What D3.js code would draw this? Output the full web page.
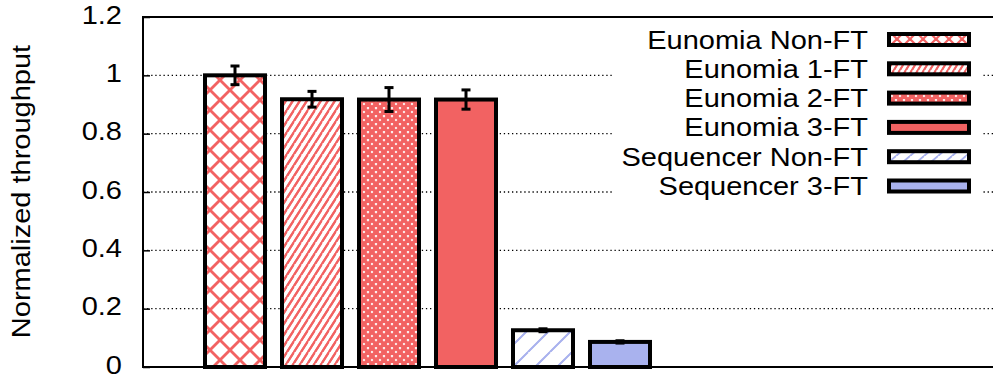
<!DOCTYPE html>
<html>
<head>
<meta charset="utf-8">
<script src="https://cdn.jsdelivr.net/npm/d3@7"></script>
<style>
  html, body { margin: 0; padding: 0; background: #fff; }
  svg { display: block; font-family: "Liberation Sans", Arial, Helvetica, sans-serif; }
</style>
</head>
<body>
<svg id="chart" width="993" height="379"></svg>
<script>
// Normalized throughput per configuration
const categories = ["Eunomia Non-FT", "Eunomia 1-FT", "Eunomia 2-FT", "Eunomia 3-FT", "Sequencer Non-FT", "Sequencer 3-FT"];
const values = [1.0, 0.918, 0.917, 0.917, 0.126, 0.086];
const errors = [0.032, 0.027, 0.041, 0.033, 0.005, 0.004];
const fills = ["xhatch", "slash", "dense", "solidRed", "slashBlue", "solidBlue"];
const yTicks = [0, 0.2, 0.4, 0.6, 0.8, 1, 1.2];
const yTickLabels = ["0", "0.2", "0.4", "0.6", "0.8", "1", "1.2"];

const RED = "#f26262";
const BLUE = "#a9b2ee";
const FONT = 25;      // glyph height
const WIDEN = 1.16;   // horizontal stretch of the lettering

const svg = d3.select("#chart");
const W = 993, H = 379;
const plot = { left: 143, top: 17, bottom: 367 };

const y = d3.scaleLinear().domain([0, 1.2]).range([plot.bottom, plot.top]);
const x = d3.scaleLinear().domain([0, categories.length - 1]).range([235, 620]);
const barW = 60;

// ---- fill patterns ----
const defs = svg.append("defs");
function crossPattern(id, size, color, sw, bg) {
  const p = defs.append("pattern").attr("id", id).attr("patternUnits", "userSpaceOnUse")
    .attr("width", size).attr("height", size);
  p.append("rect").attr("width", size).attr("height", size).attr("fill", bg);
  const s = size;
  [[0, 0, s, s], [s, 0, 0, s], [-s / 2, s / 2, s / 2, 3 * s / 2], [s / 2, -s / 2, 3 * s / 2, s / 2],
   [s / 2, -s / 2, -s / 2, s / 2], [3 * s / 2, s / 2, s / 2, 3 * s / 2]].forEach(l => {
    p.append("line").attr("x1", l[0]).attr("y1", l[1]).attr("x2", l[2]).attr("y2", l[3])
      .attr("stroke", color).attr("stroke-width", sw);
  });
}
function slashPattern(id, w, h, color, sw) {
  const p = defs.append("pattern").attr("id", id).attr("patternUnits", "userSpaceOnUse")
    .attr("width", w).attr("height", h);
  p.append("rect").attr("width", w).attr("height", h).attr("fill", "#fff");
  [[-w, h, 0, 0], [0, h, w, 0], [w, h, 2 * w, 0], [-w, 2 * h, w, 0], [0, 2 * h, 2 * w, 0]].forEach(l => {
    p.append("line").attr("x1", l[0]).attr("y1", l[1]).attr("x2", l[2]).attr("y2", l[3])
      .attr("stroke", color).attr("stroke-width", sw);
  });
}
crossPattern("xhatch", 20, RED, 2.8, "#fff");
crossPattern("dense", 8, RED, 3.7, "#fff");
slashPattern("slash", 7, 11, RED, 2.1);
slashPattern("slashBlue", 22, 22, BLUE, 1.7);
crossPattern("xhatchKey", 13, RED, 2.2, "#fff");
slashPattern("slashKey", 6, 10, RED, 1.9);
slashPattern("slashBlueKey", 14, 12, BLUE, 1.6);

function fillFor(f, key) {
  if (f === "solidRed") return RED;
  if (f === "solidBlue") return BLUE;
  if (key && f === "xhatch") return "url(#xhatchKey)";
  if (key && f === "slash") return "url(#slashKey)";
  if (key && f === "slashBlue") return "url(#slashBlueKey)";
  return `url(#${f})`;
}

// ---- grid ----
const grid = svg.append("g");
yTicks.filter(t => t > 0 && t < 1.2).forEach(t => {
  grid.append("line")
    .attr("x1", plot.left).attr("x2", W)
    .attr("y1", y(t)).attr("y2", y(t))
    .attr("stroke", "#000").attr("stroke-width", 1.3)
    .attr("stroke-dasharray", "1.3 2.8");
});

// ---- axes ----
const yAxis = d3.axisLeft(y).tickValues(yTicks).tickFormat((d, i) => yTickLabels[i])
  .tickSizeInner(-7).tickSizeOuter(0).tickPadding(21);
const gy = svg.append("g").attr("transform", `translate(${plot.left},0)`).call(yAxis);
gy.select(".domain").remove();
gy.selectAll(".tick line").attr("stroke", "#000").attr("stroke-width", 1.5);
gy.selectAll(".tick text")
  .attr("font-size", FONT).attr("fill", "#000")
  .attr("font-family", "Liberation Sans, Arial, sans-serif")
  .attr("x", 0).attr("dy", "0.25em")
  .attr("transform", `translate(-21,0) scale(${WIDEN},1)`);

svg.append("path")
  .attr("d", `M${W},${plot.top}H${plot.left}V${plot.bottom}H${W}`)
  .attr("fill", "none").attr("stroke", "#000").attr("stroke-width", 2);

svg.append("text")
  .attr("transform", `translate(30,191.5) rotate(-90) scale(${WIDEN},1)`)
  .attr("text-anchor", "middle")
  .attr("font-size", FONT)
  .text("Normalized throughput");

// ---- legend (opaque key box) ----
const key = svg.append("g");
key.append("rect").attr("x", 612).attr("y", 24).attr("width", 370).attr("height", 176).attr("fill", "#fff");
const rowY = d3.scaleLinear().domain([0, 5]).range([39.5, 186]);
categories.forEach((c, i) => {
  key.append("text")
    .attr("transform", `translate(868,${rowY(i)}) scale(${WIDEN},1)`)
    .attr("dy", "0.36em")
    .attr("text-anchor", "end").attr("font-size", FONT)
    .text(c);
  key.append("rect")
    .attr("x", 889).attr("y", rowY(i) - 5.5).attr("width", 80).attr("height", 11)
    .attr("fill", fillFor(fills[i], true))
    .attr("stroke", "#000").attr("stroke-width", 4);
});

// ---- bars ----
const bars = svg.append("g");
categories.forEach((c, i) => {
  bars.append("rect")
    .attr("x", x(i) - barW / 2).attr("y", y(values[i]))
    .attr("width", barW).attr("height", y(0) - y(values[i]))
    .attr("fill", fillFor(fills[i], false))
    .attr("stroke", "#000").attr("stroke-width", 4);
});

// ---- error bars ----
const eb = svg.append("g").attr("stroke", "#000").attr("stroke-width", 3);
categories.forEach((c, i) => {
  const cx = x(i), hi = y(values[i] + errors[i]), lo = y(values[i] - errors[i]);
  eb.append("line").attr("x1", cx).attr("x2", cx).attr("y1", hi).attr("y2", lo);
  eb.append("line").attr("x1", cx - 4.5).attr("x2", cx + 4.5).attr("y1", hi).attr("y2", hi);
  eb.append("line").attr("x1", cx - 4.5).attr("x2", cx + 4.5).attr("y1", lo).attr("y2", lo);
});
</script>
</body>
</html>
